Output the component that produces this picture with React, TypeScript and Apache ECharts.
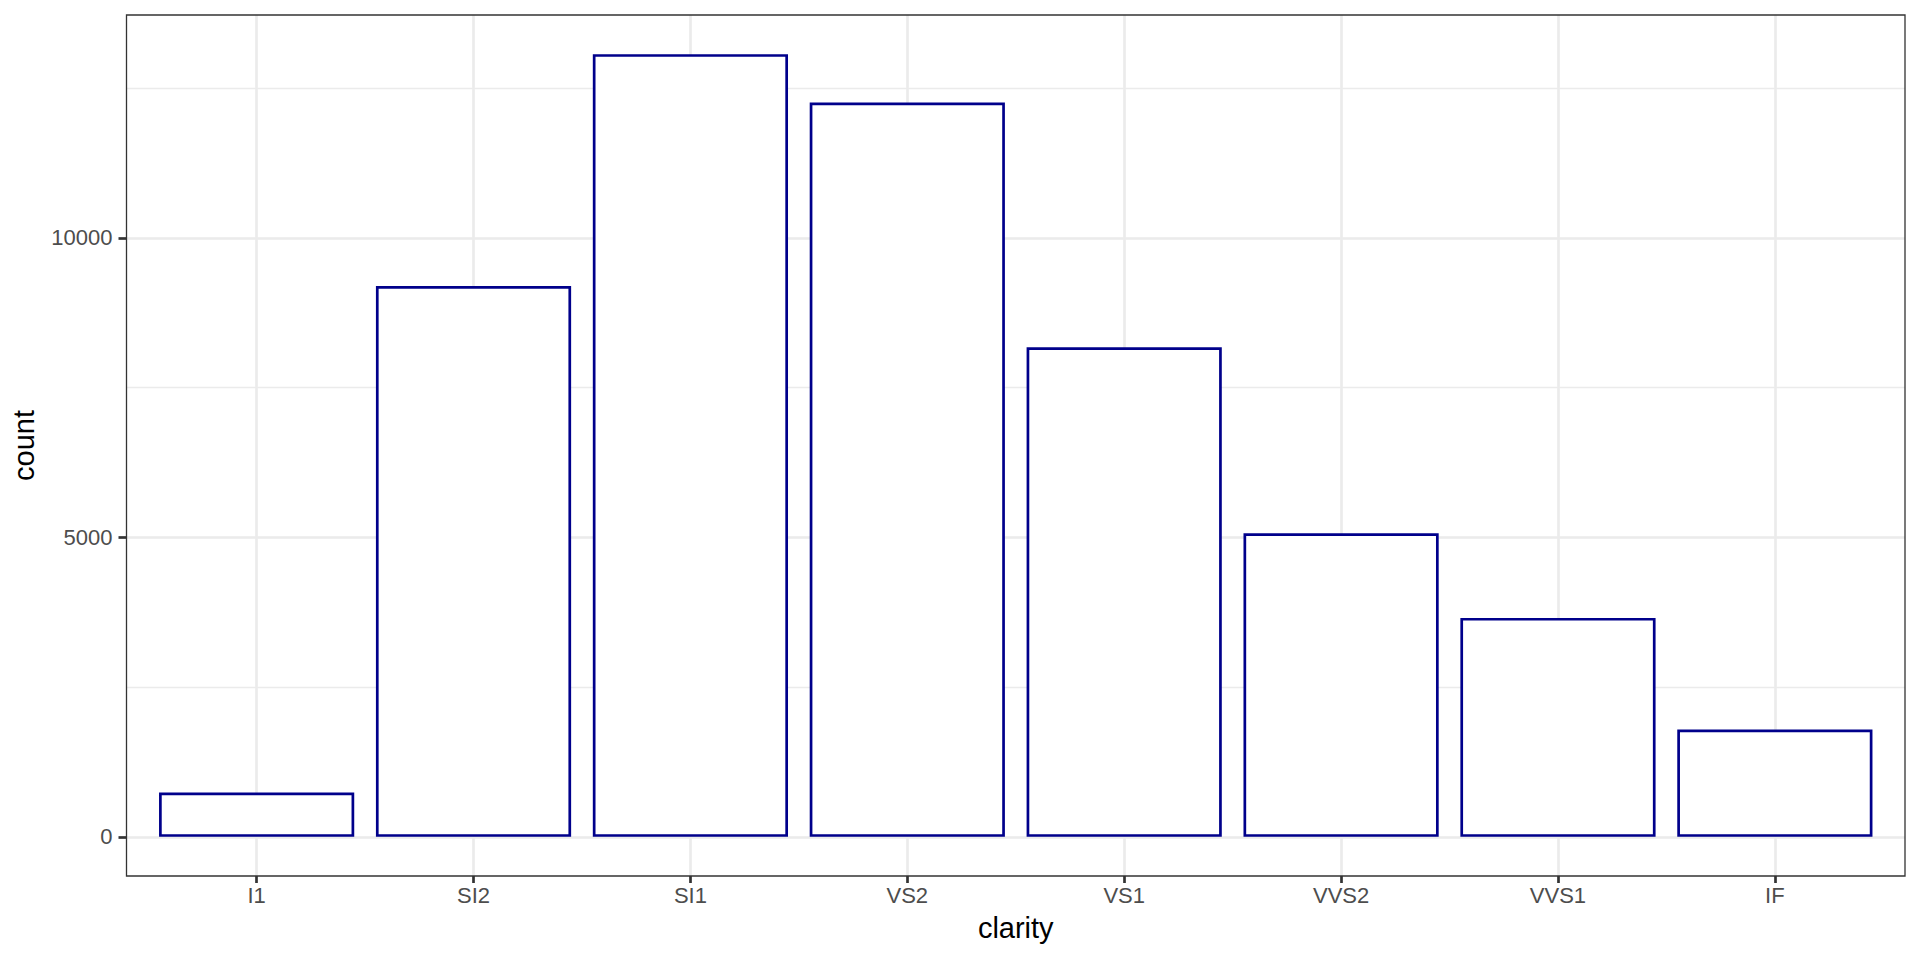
import React, { useEffect, useRef } from "react";
import * as echarts from "echarts";

const categories = ["I1", "SI2", "SI1", "VS2", "VS1", "VVS2", "VVS1", "IF"];
const counts = [741, 9194, 13065, 12258, 8171, 5066, 3655, 1790];
const yTickStep = 5000;
const yMinorStep = 2500;
const yTickMax = 10000;
const yMinorMax = 12500;
const xTitle = "clarity";
const yTitle = "count";

export default function App() {
  const ref = useRef<HTMLDivElement>(null);
  useEffect(() => {
    if (!ref.current) return;
    const chart = echarts.init(ref.current, null, { renderer: "svg" });

    // panel geometry (pixels)
    const pL = 126.5, pT = 15, pR = 1905, pB = 876;
    const pW = pR - pL, pH = pB - pT;
    // ggplot-like expansion of y
    const maxC = Math.max(...counts);
    const yMin = -0.05 * maxC, yMax = maxC * 1.05;
    const pxPerUnit = pH / (yMax - yMin);
    const y0 = pB + yMin * pxPerUnit; // pixel of value 0
    const topMajor = y0 - yTickMax * pxPerUnit;
    const topMinor = y0 - yMinorMax * pxPerUnit;
    // category band: n + 0.2 units across the panel
    const n = categories.length;
    const band = pW / (n + 0.2);
    const bLeft = pL + 0.1 * band;
    const bW = band * n;
    const cLeft = pL + 0.6 * band;
    const cW = band * (n - 1);

    const grid = "#EBEBEB";
    const font = "Liberation Sans, Arial, sans-serif";

    chart.setOption({
      animation: false,
      backgroundColor: "#ffffff",
      grid: [
        { left: pL, top: topMajor, width: pW, height: y0 - topMajor },
        { left: bLeft, top: pT, width: bW, height: pH },
        { left: cLeft, top: pT, width: cW, height: pH },
        { left: pL, top: topMinor, width: pW, height: y0 - topMinor },
      ],
      xAxis: [
        { type: "value", gridIndex: 0, show: false, min: 0, max: 1 },
        {
          type: "category",
          gridIndex: 1,
          data: categories,
          boundaryGap: true,
          axisLine: { show: false, onZero: false },
          axisTick: { show: true, alignWithLabel: true, length: 7, lineStyle: { color: "#333333", width: 2.7 } },
          axisLabel: { show: true, interval: 0, margin: 8, color: "#4D4D4D", fontSize: 22, fontFamily: font },
          splitLine: { show: false },
        },
        {
          type: "category",
          gridIndex: 2,
          data: categories,
          boundaryGap: false,
          axisLine: { show: false },
          axisTick: { show: false },
          axisLabel: { show: false },
          splitLine: { show: true, interval: 0, lineStyle: { color: grid, width: 2.7 } },
        },
        { type: "value", gridIndex: 3, show: false, min: 0, max: 1 },
      ],
      yAxis: [
        {
          type: "value",
          gridIndex: 0,
          min: 0,
          max: yTickMax,
          interval: yTickStep,
          axisLine: { show: false },
          axisTick: { show: true, length: 8, lineStyle: { color: "#333333", width: 2.7 } },
          axisLabel: {
            show: true,
            margin: 14,
            color: "#4D4D4D",
            fontSize: 22,
            fontFamily: font,
            formatter: (v: number) => String(v),
          },
          splitLine: { show: true, lineStyle: { color: grid, width: 2.7 } },
        },
        { type: "value", gridIndex: 1, show: false, min: yMin, max: yMax },
        { type: "value", gridIndex: 2, show: false, min: 0, max: 1 },
        {
          type: "value",
          gridIndex: 3,
          min: 0,
          max: yMinorMax,
          interval: yMinorStep,
          axisLine: { show: false },
          axisTick: { show: false },
          axisLabel: { show: false },
          splitLine: { show: true, lineStyle: { color: grid, width: 1.3 } },
        },
      ],
      series: [
        {
          type: "bar",
          xAxisIndex: 1,
          yAxisIndex: 1,
          data: counts,
          barWidth: "90%",
          z: 3,
          itemStyle: { color: "#ffffff", borderColor: "#00008B", borderWidth: 2.7 },
        },
      ],
      graphic: [
        {
          type: "rect",
          z: 100,
          shape: { x: pL, y: pT, width: pW, height: pH },
          style: { fill: "none", stroke: "#333333", lineWidth: 1.3 },
        },
        {
          type: "text",
          z: 100,
          x: (pL + pR) / 2,
          y: 928,
          style: { text: xTitle, fontSize: 29, fontFamily: font, fill: "#000000", align: "center", verticalAlign: "middle" },
        },
        {
          type: "text",
          z: 100,
          x: 23.5,
          y: (pT + pB) / 2,
          rotation: Math.PI / 2,
          style: { text: yTitle, fontSize: 29, fontFamily: font, fill: "#000000", align: "center", verticalAlign: "middle" },
        },
      ],
    });
    return () => chart.dispose();
  }, []);
  return (
    <div
      ref={ref}
      style={{ position: "fixed", left: 0, top: 0, width: 1920, height: 960 }}
    />
  );
}
